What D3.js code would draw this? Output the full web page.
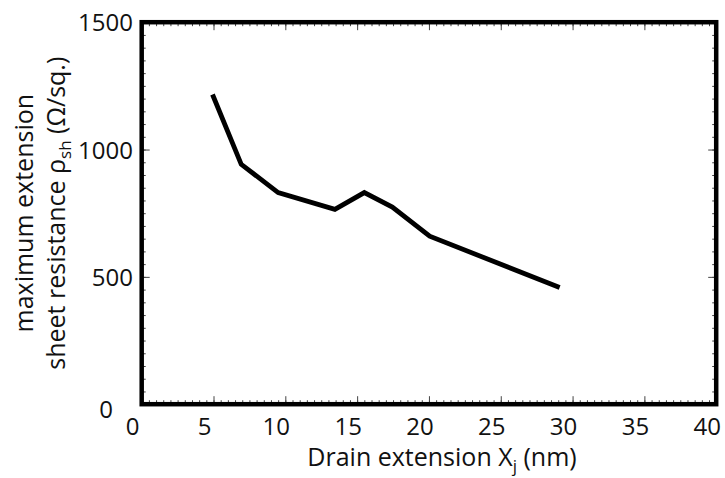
<!DOCTYPE html>
<html>
<head>
<meta charset="utf-8">
<script src="https://cdn.jsdelivr.net/npm/d3@7"></script>
<style>
  body { margin: 0; background: #fff; }
  text { font-family: "Open Sans", "Noto Sans", sans-serif; fill: #111; }
</style>
</head>
<body>
<svg id="chart"></svg>
<script>
// data
var drainExt = [4.93, 6.93, 9.5, 13.45, 15.5, 17.45, 20.05, 29.1];
var resistance = [1216, 942, 831, 765, 831, 774, 660, 458];
var xTicks = [0, 5, 10, 15, 20, 25, 30, 35, 40];
var yTicks = [0, 500, 1000, 1500];

var w = 725, h = 478;
var mLeft = 141.7, mRight = 716.2, mTop = 22.2, mBottom = 404.2;

var svg = d3.select("#chart")
    .attr("width", w)
    .attr("height", h);

//scales
var x = d3.scaleLinear().domain([0, 40]).range([mLeft, mRight]);
var y = d3.scaleLinear().domain([0, 1500]).range([mBottom, mTop]);

var minorX = d3.range(0, 40.01, 0.5);
var minorY = d3.range(0, 1500.1, 50);

function noDomain(g){ g.select(".domain").remove(); }

// minor ticks on all four sides (inward)
svg.append("g")
    .attr("transform", "translate(0," + mBottom + ")")
    .call(d3.axisTop(x).tickValues(minorX).tickSize(4).tickFormat(""))
    .call(noDomain);
svg.append("g")
    .attr("transform", "translate(0," + mTop + ")")
    .call(d3.axisBottom(x).tickValues(minorX).tickSize(4).tickFormat(""))
    .call(noDomain);
svg.append("g")
    .attr("transform", "translate(" + mLeft + ",0)")
    .call(d3.axisRight(y).tickValues(minorY).tickSize(4).tickFormat(""))
    .call(noDomain);
svg.append("g")
    .attr("transform", "translate(" + mRight + ",0)")
    .call(d3.axisLeft(y).tickValues(minorY).tickSize(4).tickFormat(""))
    .call(noDomain);

// major ticks
svg.append("g")
    .attr("transform", "translate(0," + mBottom + ")")
    .call(d3.axisTop(x).tickValues(xTicks).tickSize(8).tickFormat(""))
    .call(noDomain);
svg.append("g")
    .attr("transform", "translate(0," + mTop + ")")
    .call(d3.axisBottom(x).tickValues(xTicks).tickSize(8).tickFormat(""))
    .call(noDomain);
svg.append("g")
    .attr("transform", "translate(" + mLeft + ",0)")
    .call(d3.axisRight(y).tickValues(yTicks).tickSize(8).tickFormat(""))
    .call(noDomain);
svg.append("g")
    .attr("transform", "translate(" + mRight + ",0)")
    .call(d3.axisLeft(y).tickValues(yTicks).tickSize(8).tickFormat(""))
    .call(noDomain);

svg.selectAll(".tick line").attr("stroke", "#444").attr("stroke-width", 1);

// tick labels
svg.append("g").selectAll("text")
    .data(xTicks)
    .enter()
    .append("text")
    .attr("x", function(d){ return x(d) - 9; })
    .attr("y", 435)
    .attr("text-anchor", "middle")
    .style("font-size", "24px")
    .text(function(d){ return d; });

svg.append("g").selectAll("text")
    .data(yTicks)
    .enter()
    .append("text")
    .attr("x", function(d){ return d === 0 ? 113 : 133; })
    .attr("y", function(d){ return d === 0 ? y(d) + 14 : y(d) + 9; })
    .attr("text-anchor", "end")
    .style("font-size", "24px")
    .text(function(d){ return d; });

// data line
var line = d3.line()
    .x(function(d){ return x(d[0]); })
    .y(function(d){ return y(d[1]); });

svg.append("path")
    .datum(d3.zip(drainExt, resistance))
    .attr("d", line)
    .attr("fill", "none")
    .attr("stroke", "#000")
    .attr("stroke-width", 4.8)
    .attr("stroke-linejoin", "miter");

// frame
svg.append("rect")
    .attr("x", mLeft)
    .attr("y", mTop)
    .attr("width", mRight - mLeft)
    .attr("height", mBottom - mTop)
    .attr("fill", "none")
    .attr("stroke", "#000")
    .attr("stroke-width", 4.5);

// x axis label
var xl = svg.append("text")
    .attr("x", 442)
    .attr("y", 466)
    .attr("text-anchor", "middle")
    .style("font-size", "25px");
xl.append("tspan").text("Drain extension X");
xl.append("tspan").attr("dy", 6).style("font-size", "17px").text("j");
xl.append("tspan").attr("dy", -6).text(" (nm)");

// y axis label, two lines
var cy = (mTop + mBottom) / 2;
svg.append("text")
    .attr("transform", "translate(33," + cy + ") rotate(-90)")
    .attr("text-anchor", "middle")
    .style("font-size", "25px")
    .text("maximum extension");

var yl = svg.append("text")
    .attr("transform", "translate(65," + cy + ") rotate(-90)")
    .attr("text-anchor", "middle")
    .style("font-size", "25px");
yl.append("tspan").text("sheet resistance \u03c1");
yl.append("tspan").attr("dy", 6).style("font-size", "17px").text("sh");
yl.append("tspan").attr("dy", -6).text(" (\u03a9/sq.)");
</script>
</body>
</html>
